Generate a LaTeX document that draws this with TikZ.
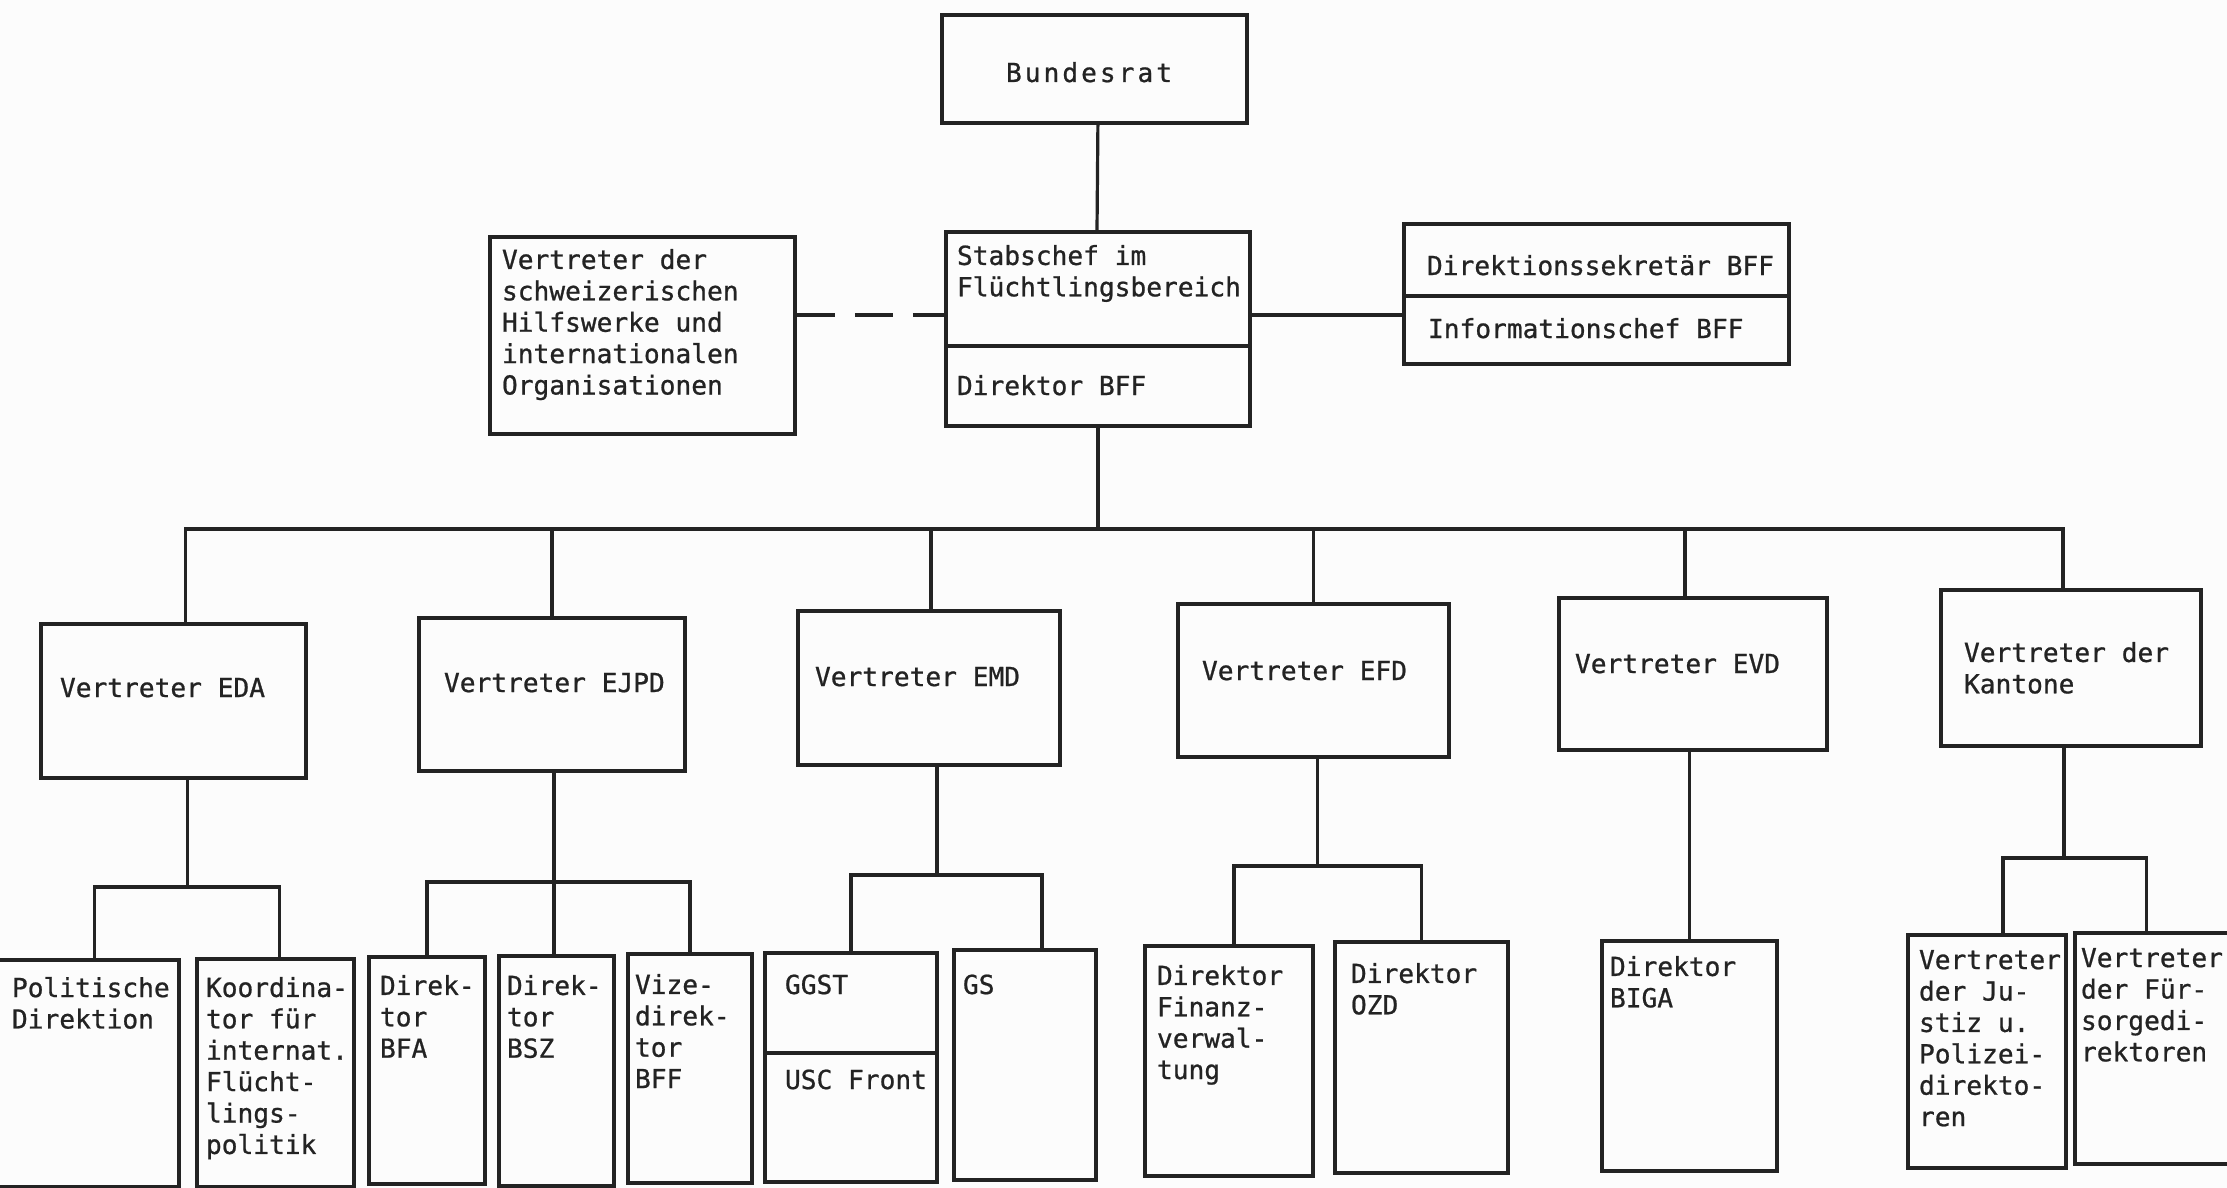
\documentclass[tikz,border=0pt]{standalone}
\usepackage{fontspec}
\usetikzlibrary{calc}
\newfontfamily\tw{DejaVu Sans Mono}[FakeBold=0.8]
\newfontfamily\twsp{DejaVu Sans Mono}[LetterSpace=11.5,FakeBold=0.8]
\definecolor{ink}{RGB}{35,35,35}
\definecolor{paper}{RGB}{252,252,252}
\newcommand\orgbox[5]{\node[bx, minimum width={(#4-(#2))*0.5pt}, minimum height={(#5-(#3))*0.5pt}] (#1) at (#2,#3) {};}
\begin{document}
\begin{tikzpicture}[x=0.5pt,y=-0.5pt,
  bx/.style={draw=ink, line width=1.9pt, rectangle, inner sep=0pt, anchor=north west},
  lbl/.style={anchor=north west, inner sep=0pt, outer sep=0pt, align=left, text=ink,
    font={\tw\fontsize{13.1pt}{15.7pt}\selectfont}, execute at begin node={\rule{0pt}{12.5pt}}},
  wire/.style={draw=ink, line width=1.6pt},
  sepl/.style={draw=ink, line width=1.9pt}]
\fill[paper] (0,0) rectangle (2227,1188);
\path[use as bounding box, clip] (0,0) rectangle (2227,1188);

% ---------- boxes ----------
\orgbox{bund}{940}{13}{1245}{121}
\orgbox{stab}{944}{230}{1248}{424}
\orgbox{lft}{488}{235}{793}{432}
\orgbox{rgt}{1402}{222}{1787}{362}
\orgbox{eda}{39}{622}{304}{776}
\orgbox{ejpd}{417}{616}{683}{769}
\orgbox{emd}{796}{609}{1058}{763}
\orgbox{efd}{1176}{602}{1447}{755}
\orgbox{evd}{1557}{596}{1825}{748}
\orgbox{kant}{1939}{588}{2199}{744}
\orgbox{pol}{-12}{958}{177}{1185}
\orgbox{koo}{195}{957}{352}{1185}
\orgbox{bfa}{367}{955}{483}{1182}
\orgbox{bsz}{497}{954}{612}{1184}
\orgbox{vize}{626}{952}{750}{1181}
\orgbox{ggst}{763}{951}{935}{1180}
\orgbox{gs}{952}{948}{1094}{1178}
\orgbox{fin}{1143}{944}{1311}{1174}
\orgbox{ozd}{1333}{940}{1506}{1171}
\orgbox{biga}{1600}{939}{1775}{1169}
\orgbox{jus}{1906}{933}{2064}{1166}
\orgbox{fur}{2073}{931}{2240}{1162}

% dividers inside boxes
\coordinate (stabdiv) at (0,346);
\coordinate (rgtdiv) at (0,296);
\coordinate (ggdiv) at (0,1053);
\draw[sepl] (stab.west |- stabdiv) -- (stab.east |- stabdiv);
\draw[sepl] (rgt.west |- rgtdiv) -- (rgt.east |- rgtdiv);
\draw[sepl] (ggst.west |- ggdiv) -- (ggst.east |- ggdiv);

% ---------- texts ----------
\node[lbl, font={\twsp\fontsize{13.1pt}{15.7pt}\selectfont}] (tbund) at (1006,57) {Bundesrat};
\node[lbl] (tstab) at (957,245) {Stabschef im\\Flüchtlingsbereich};
\node[lbl] (tdir) at (957,370) {Direktor BFF};
\node[lbl] (tlft) at (502,249) {Vertreter der\\schweizerischen\\Hilfswerke und\\internationalen\\Organisationen};
\node[lbl] (trgt1) at (1427,250) {Direktionssekretär BFF};
\node[lbl] (trgt2) at (1428,313) {Informationschef BFF};
\node[lbl] (teda) at (60,672) {Vertreter EDA};
\node[lbl] (tejpd) at (444,667) {Vertreter EJPD};
\node[lbl] (temd) at (815,661) {Vertreter EMD};
\node[lbl] (tefd) at (1202,655) {Vertreter EFD};
\node[lbl] (tevd) at (1575,648) {Vertreter EVD};
\node[lbl] (tkant) at (1964,642) {Vertreter der\\Kantone};
\node[lbl] (tpol) at (12,977) {Politische\\Direktion};
\node[lbl] (tkoo) at (206,977) {Koordina-\\tor für\\internat.\\Flücht-\\lings-\\politik};
\node[lbl] (tbfa) at (380,975) {Direk-\\tor\\BFA};
\node[lbl] (tbsz) at (507,975) {Direk-\\tor\\BSZ};
\node[lbl] (tvize) at (635,974) {Vize-\\direk-\\tor\\BFF};
\node[lbl] (tggst) at (785,969) {GGST};
\node[lbl] (tusc) at (785,1064) {USC Front};
\node[lbl] (tgs) at (963,969) {GS};
\node[lbl] (tfin) at (1157,965) {Direktor\\Finanz-\\verwal-\\tung};
\node[lbl] (tozd) at (1351,963) {Direktor\\OZD};
\node[lbl] (tbiga) at (1610,956) {Direktor\\BIGA};
\node[lbl] (tjus) at (1919,950) {Vertreter\\der Ju-\\stiz u.\\Polizei-\\direkto-\\ren};
\node[lbl] (tfur) at (2081,948) {Vertreter\\der Für-\\sorgedi-\\rektoren};

% ---------- connectors ----------
\coordinate (cy) at (0,315);
\coordinate (bus) at (0,529);
\draw[wire] (stab.north -| 1097,0) -- (stab.north |- bund.south);
\draw[wire, dash pattern=on 19pt off 10pt] (lft.east |- cy) -- (stab.west |- cy);
\draw[wire] (stab.east |- cy) -- (rgt.west |- cy);

% top drop points
\coordinate (dEDA) at ([xshift=6pt]eda.north);
\coordinate (dEMD) at ([xshift=1pt]emd.north);
\coordinate (dEVD) at ([xshift=-4pt]evd.north);
\coordinate (dKAN) at ([xshift=-4pt]kant.north);
\draw[wire] (stab.south) -- (stab.south |- bus);
\draw[wire] (dEDA) -- (dEDA |- bus) -- (dKAN |- bus) -- (dKAN);
\draw[wire] (ejpd.north |- bus) -- (ejpd.north);
\draw[wire] (dEMD |- bus) -- (dEMD);
\draw[wire] (efd.north |- bus) -- (efd.north);
\draw[wire] (dEVD |- bus) -- (dEVD);

% EDA subtree
\coordinate (uEDA) at ([xshift=7pt]eda.south);
\coordinate (sEDA) at (0,887);
\coordinate (dPOL) at ([xshift=5pt]pol.north);
\coordinate (dKOO) at ([xshift=2pt]koo.north);
\draw[wire] (uEDA) -- (uEDA |- sEDA);
\draw[wire] (dPOL) -- (dPOL |- sEDA) -- (dKOO |- sEDA) -- (dKOO);

% EJPD subtree
\coordinate (sEJPD) at (0,882);
\coordinate (uEJPD) at ([xshift=1pt]ejpd.south);
\draw[wire] (uEJPD) -- (uEJPD |- bsz.north);
\draw[wire] (bfa.north) -- (bfa.north |- sEJPD) -- (vize.north |- sEJPD) -- (vize.north);

% EMD subtree
\coordinate (sEMD) at (0,875);
\coordinate (uEMD) at ([xshift=4pt]emd.south);
\coordinate (dGS) at ([xshift=8.5pt]gs.north);
\draw[wire] (uEMD) -- (uEMD |- sEMD);
\draw[wire] (ggst.north) -- (ggst.north |- sEMD) -- (dGS |- sEMD) -- (dGS);

% EFD subtree
\coordinate (sEFD) at (0,866);
\coordinate (uEFD) at ([xshift=2pt]efd.south);
\coordinate (dFIN) at ([xshift=2.5pt]fin.north);
\draw[wire] (uEFD) -- (uEFD |- sEFD);
\draw[wire] (dFIN) -- (dFIN |- sEFD) -- (ozd.north |- sEFD) -- (ozd.north);

% EVD subtree
\draw[wire] (biga.north |- evd.south) -- (biga.north);

% Kantone subtree
\coordinate (sKAN) at (0,858);
\coordinate (uKAN) at ([xshift=-3.5pt]kant.south);
\coordinate (dJUS) at ([xshift=8pt]jus.north);
\coordinate (dFUR) at ([xshift=-6pt]fur.north);
\draw[wire] (uKAN) -- (uKAN |- sKAN);
\draw[wire] (dJUS) -- (dJUS |- sKAN) -- (dFUR |- sKAN) -- (dFUR);
\end{tikzpicture}
\end{document}
